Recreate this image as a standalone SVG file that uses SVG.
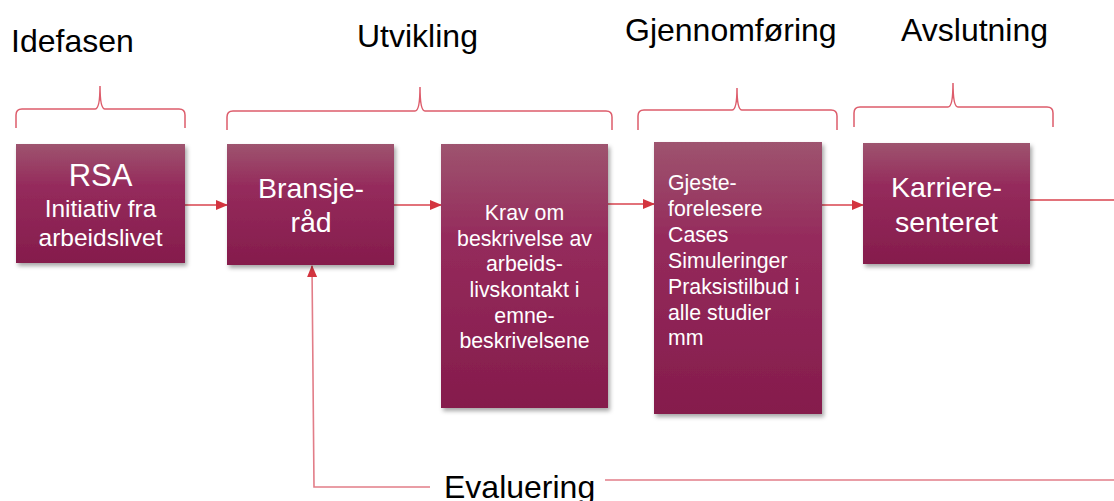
<svg xmlns="http://www.w3.org/2000/svg" width="1114" height="501" viewBox="0 0 1114 501">
<defs>
<linearGradient id="boxGrad" x1="0" y1="0" x2="0" y2="1">
<stop offset="0" stop-color="#9e546f"/>
<stop offset="0.35" stop-color="#952b5c"/>
<stop offset="1" stop-color="#851c4c"/>
</linearGradient>
<filter id="shadow" x="-10%" y="-10%" width="130%" height="130%">
<feDropShadow dx="2" dy="3" stdDeviation="2" flood-color="#000" flood-opacity="0.35"/>
</filter>
<marker id="arrow" markerUnits="userSpaceOnUse" markerWidth="12" markerHeight="12" viewBox="0 0 12 12" refX="11" refY="6" orient="auto">
<path d="M0,1 L12,6 L0,11 Z" fill="#d3343f"/>
</marker>
</defs>
<style>
.hdr{font-family:"Liberation Sans",Arial,sans-serif;font-size:32px;fill:#000}
.box{fill:url(#boxGrad);filter:url(#shadow)}
.t{font-family:"Liberation Sans",Arial,sans-serif;fill:#fff}
.brace{fill:none;stroke:#dd5c6b;stroke-width:1.5}
.conn{fill:none;stroke:#d9434e;stroke-width:1.4}
.eval{fill:none;stroke:#e27d88;stroke-width:1.6}
</style>
<rect width="1114" height="501" fill="#fff"/>
<g id="headers">
<text class="hdr" x="11" y="52">Idefasen</text>
<text class="hdr" x="357" y="47">Utvikling</text>
<text class="hdr" x="625" y="41">Gjennomføring</text>
<text class="hdr" x="901" y="41">Avslutning</text>
</g>
<g id="braces">
<path class="brace" d="M16,128 L16,115 Q16,109 22,109 L95,109 Q100,109 100,86 Q100,109 105,109 L179,109 Q185,109 185,115 L185,128"/>
<path class="brace" d="M227,130 L227,117 Q227,111 233,111 L415,111 Q420,111 420,87 Q420,111 425,111 L606,111 Q612,111 612,117 L612,130"/>
<path class="brace" d="M638,130 L638,116 Q638,110 644,110 L732,110 Q737,110 737,88 Q737,110 742,110 L831,110 Q837,110 837,116 L837,130"/>
<path class="brace" d="M854,127 L854,113 Q854,107 860,107 L948,107 Q953,107 953,83 Q953,107 958,107 L1047,107 Q1053,107 1053,113 L1053,127"/>
</g>
<g id="connectors">
<line class="conn" x1="185" y1="205" x2="227" y2="205" marker-end="url(#arrow)"/>
<line class="conn" x1="394" y1="205" x2="441" y2="205" marker-end="url(#arrow)"/>
<line class="conn" x1="608" y1="204" x2="654" y2="204" marker-end="url(#arrow)"/>
<line class="conn" x1="822" y1="205" x2="863" y2="205" marker-end="url(#arrow)"/>
<line class="conn" x1="1030" y1="200" x2="1114" y2="200"/>
<polyline class="eval" points="430,487 314,487 312,266" marker-end="url(#arrow)"/>
<line class="eval" x1="605" y1="480" x2="1114" y2="480"/>
</g>
<g id="node-rsa">
<rect class="box" x="16" y="144" width="169" height="119"/>
<text class="t" x="100.5" y="186" font-size="31" text-anchor="middle">RSA</text>
<text class="t" x="100.5" y="217" font-size="24.5" text-anchor="middle">Initiativ fra</text>
<text class="t" x="100.5" y="246" font-size="24.5" text-anchor="middle">arbeidslivet</text>
</g>
<g id="node-bransjerad">
<rect class="box" x="227" y="144" width="167" height="121"/>
<text class="t" x="311" y="198" font-size="28.5" text-anchor="middle">Bransje-</text>
<text class="t" x="311" y="232" font-size="28.5" text-anchor="middle">råd</text>
</g>
<g id="node-krav">
<rect class="box" x="441" y="144" width="167" height="264"/>
<g class="t" font-size="21.3" text-anchor="middle">
<text x="524.5" y="220">Krav om</text>
<text x="524.5" y="245.5">beskrivelse av</text>
<text x="524.5" y="271">arbeids-</text>
<text x="524.5" y="297">livskontakt i</text>
<text x="524.5" y="322.5">emne-</text>
<text x="524.5" y="348">beskrivelsene</text>
</g>
</g>
<g id="node-gjennomforing">
<rect class="box" x="654" y="142" width="168" height="272"/>
<g class="t" font-size="21.3">
<text x="668" y="190">Gjeste-</text>
<text x="668" y="216">forelesere</text>
<text x="668" y="242">Cases</text>
<text x="668" y="268">Simuleringer</text>
<text x="668" y="294">Praksistilbud i</text>
<text x="668" y="320">alle studier</text>
<text x="668" y="345">mm</text>
</g>
</g>
<g id="node-karriere">
<rect class="box" x="863" y="143" width="167" height="121"/>
<text class="t" x="946.5" y="197" font-size="28.5" text-anchor="middle">Karriere-</text>
<text class="t" x="946.5" y="232" font-size="28.5" text-anchor="middle">senteret</text>
</g>
<g id="evaluering">
<text class="hdr" x="444" y="498">Evaluering</text>
</g>
</svg>
